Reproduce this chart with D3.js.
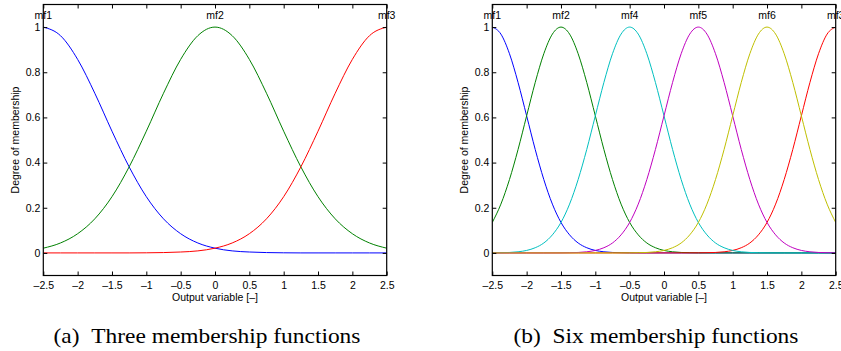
<!DOCTYPE html>
<html>
<head>
<meta charset="utf-8">
<script src="https://cdn.jsdelivr.net/npm/d3@7.9.0/dist/d3.min.js"></script>
<style>
  body { margin: 0; background: #fff; }
  svg { display: block; }
</style>
</head>
<body>
<svg id="chart" width="841" height="351"></svg>
<script>
// tick values
const xTicks = [-2.5, -2, -1.5, -1, -0.5, 0, 0.5, 1, 1.5, 2, 2.5];
const yTicks = [0, 0.2, 0.4, 0.6, 0.8, 1];

// panel (a): three membership functions
const namesA = ['mf1', 'mf2', 'mf3'];
const centersA = [-2.5, 0, 2.5];
const colorsA = ['#0000ff', '#008000', '#ff0000'];
// membership read against distance from the centre
const distA = [0, 0.25, 0.5, 0.75, 1, 1.25, 1.5, 1.75, 2, 2.25, 2.5, 2.75, 3, 3.25, 3.5, 3.75, 4, 4.25, 4.5, 4.75, 5];
const profileA = [1, 0.962, 0.857, 0.707, 0.539, 0.381, 0.249, 0.151, 0.085, 0.044, 0.021, 0.009, 0.004, 0.0015, 0.0005, 0, 0, 0, 0, 0, 0];

// panel (b): six membership functions (drawn in mf1..mf6 order)
const namesB = ['mf1', 'mf2', 'mf3', 'mf4', 'mf5', 'mf6'];
const centersB = [-2.5, -1.5, 2.5, -0.5, 0.5, 1.5];
const colorsB = ['#0000ff', '#008000', '#ff0000', '#00bfbf', '#bf00bf', '#bfbf00'];
const distB = [0, 0.125, 0.25, 0.375, 0.5, 0.625, 0.75, 0.875, 1, 1.125, 1.25, 1.375, 1.5, 1.625, 1.75, 1.875, 2,
  2.25, 2.5, 2.75, 3, 3.25, 3.5, 3.75, 4, 4.25, 4.5, 4.75, 5];
const profileB = [1, 0.969, 0.882, 0.755, 0.607, 0.458, 0.325, 0.216, 0.135, 0.080, 0.044, 0.023, 0.011, 0.005, 0.002, 0.001, 0.0003,
  0, 0, 0, 0, 0, 0, 0, 0, 0, 0, 0, 0];

const captions = ['(a)\u2002Three membership functions', '(b)\u2002Six membership functions'];

const svg = d3.select('#chart');
svg.append('rect').attr('width', 841).attr('height', 351).attr('fill', '#fff');

const plotTop = 4.5, plotBottom = 275.5;
const fmt = d => d3.format('')(d).replace('−', '–').replace('-', '–');

function panel(left, right, names, centers, colors, dist, profile, caption, captionX, clipId) {
  const x = d3.scaleLinear().domain([-2.5, 2.5]).range([left, right]);
  const y = d3.scaleLinear().domain([-0.1, 1.1]).range([plotBottom, plotTop]);
  const g = svg.append('g').attr('font-family', '"Liberation Sans", Arial, sans-serif');

  svg.append('clipPath').attr('id', clipId)
    .append('rect').attr('x', left).attr('y', plotTop).attr('width', right - left).attr('height', plotBottom - plotTop);

  const line = d3.line().x(d => x(d[0])).y(d => y(d[1])).curve(d3.curveMonotoneX);

  centers.forEach((c, i) => {
    let pts = [];
    dist.forEach((d, j) => {
      pts.push([c - d, profile[j]]);
      if (d > 0) pts.push([c + d, profile[j]]);
    });
    pts = pts.filter(p => p[0] >= -2.5 - 1e-9 && p[0] <= 2.5 + 1e-9).sort((a, b) => a[0] - b[0]);
    g.append('path')
      .attr('clip-path', `url(#${clipId})`)
      .attr('d', line(pts))
      .attr('fill', 'none')
      .attr('stroke', colors[i])
      .attr('stroke-width', 1);
  });

  // axes with inward ticks, mirrored on all four sides
  const ax = (sel) => sel.call(s => s.select('.domain').remove())
    .call(s => s.selectAll('text').attr('font-size', 10.5).attr('fill', '#000'))
    .call(s => s.selectAll('line').attr('stroke', '#000'));

  g.append('g').attr('transform', `translate(0,${plotBottom})`)
    .call(d3.axisBottom(x).tickValues(xTicks).tickSize(-4).tickPadding(6).tickFormat(fmt)).call(ax);
  g.append('g').attr('transform', `translate(0,${plotTop})`)
    .call(d3.axisTop(x).tickValues(xTicks).tickSize(-4).tickFormat('')).call(ax);
  g.append('g').attr('transform', `translate(${left},0)`)
    .call(d3.axisLeft(y).tickValues(yTicks).tickSize(-4).tickPadding(3).tickFormat(fmt)).call(ax);
  g.append('g').attr('transform', `translate(${right},0)`)
    .call(d3.axisRight(y).tickValues(yTicks).tickSize(-4).tickFormat('')).call(ax);

  g.append('rect')
    .attr('x', left).attr('y', plotTop)
    .attr('width', right - left).attr('height', plotBottom - plotTop)
    .attr('fill', 'none').attr('stroke', '#000').attr('stroke-width', 1.2);

  // membership function names above each peak
  names.forEach((n, i) => {
    g.append('text')
      .attr('x', x(centers[i])).attr('y', 19)
      .attr('text-anchor', 'middle')
      .attr('font-size', 10.5)
      .text(n);
  });

  g.append('text')
    .attr('x', (left + right) / 2).attr('y', 300.5)
    .attr('text-anchor', 'middle')
    .attr('font-size', 10.5)
    .text('Output variable [–]');

  g.append('text')
    .attr('transform', `translate(${left - 24.5},${(plotTop + plotBottom) / 2}) rotate(-90)`)
    .attr('text-anchor', 'middle')
    .attr('font-size', 10.5)
    .text('Degree of membership');

  svg.append('text')
    .attr('transform', `translate(${captionX},342.5) scale(1.09,1)`)
    .attr('text-anchor', 'middle')
    .attr('font-family', '"Liberation Serif", "Times New Roman", serif')
    .attr('font-size', 21.5)
    .text(caption);
}

panel(43.3, 386.7, namesA, centersA, colorsA, distA, profileA, captions[0], 207, 'clipA');
panel(492.3, 835.7, namesB, centersB, colorsB, distB, profileB, captions[1], 656, 'clipB');
</script>
</body>
</html>
